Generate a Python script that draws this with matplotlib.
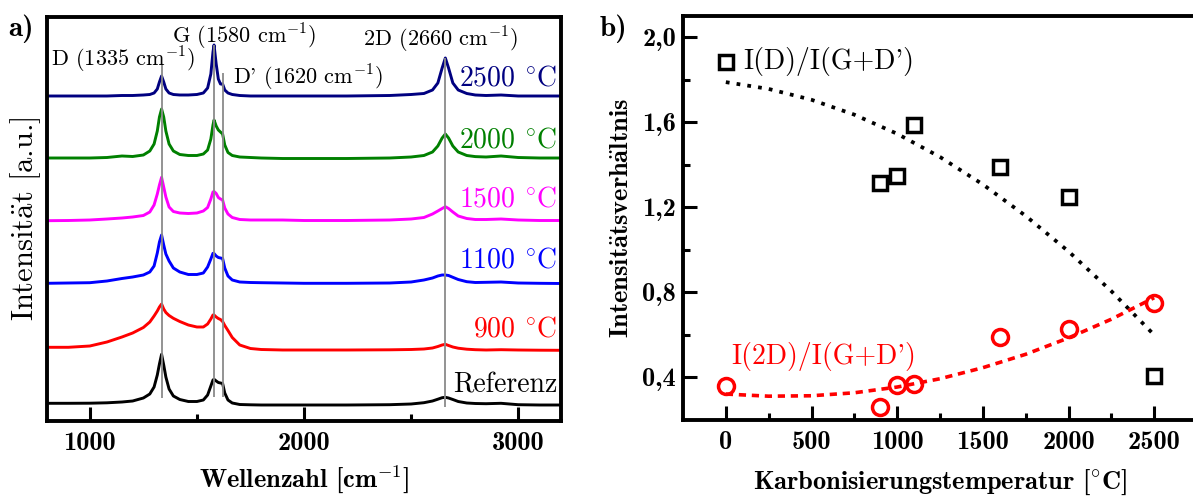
import matplotlib
matplotlib.use('Agg')
import matplotlib.pyplot as plt

plt.rcParams['mathtext.fontset'] = 'cm'
plt.rcParams['axes.formatter.use_mathtext'] = True

# ---------------- data: panel a (Raman spectra, offset, arbitrary units) ----------------
wavenumber = [800, 900, 1000, 1080, 1150, 1200, 1250, 1280, 1300, 1315, 1325, 1335, 1345, 1355,
              1370, 1390, 1420, 1460, 1500, 1530, 1550, 1565, 1575, 1580, 1590, 1600, 1610, 1620,
              1630, 1645, 1665, 1700, 1750, 1800, 1900, 2000, 2200, 2400, 2500, 2560, 2600, 2625,
              2645, 2660, 2675, 2695, 2720, 2760, 2800, 2850, 2920, 3000, 3100, 3200]

spec_2500 = [325, 325, 325, 325, 325.5, 325.5, 326, 326.5, 328, 332, 339, 345, 339, 332,
             328, 326.5, 326, 326, 326.5, 328, 333, 347, 369, 376, 357, 342, 337, 337,
             331, 328, 326.5, 325.5, 325, 325, 325, 325, 325, 325.5, 326.5, 327.5, 331, 338,
             353, 363, 353, 338, 331, 327.5, 326, 325.5, 326, 325, 325, 325]

spec_2000 = [263, 263, 263, 263.5, 265, 264.5, 266, 270, 277, 290, 304, 312, 304, 290,
             277, 270, 266.5, 265.5, 265.5, 267, 271, 282, 296, 301, 295, 291, 289, 287,
             276, 268.5, 265.5, 264, 263.5, 263, 262.5, 262.5, 262.5, 263, 264, 265.5, 269, 275,
             283, 287, 283, 275, 269, 265.5, 264.4, 264, 265, 263.5, 263, 263]

spec_1500 = [200.3, 200.5, 201, 202, 203, 204, 205.5, 209, 216, 227, 236, 243.7, 234, 224,
             214, 209.5, 208, 207.5, 208, 210, 213.5, 222, 229, 229.5, 227.5, 223.5, 222, 221,
             213, 207, 203.5, 201.5, 201, 201, 201, 200.5, 200.5, 201, 202, 203.5, 207, 210,
             212.5, 214.3, 212.5, 209, 205, 202.5, 201.5, 201.5, 202, 201, 200.5, 200.5]

spec_1100 = [137.7, 138, 138.3, 140, 142.5, 144, 146, 149, 155, 168, 179, 186, 176, 167,
             160, 153, 149, 146.5, 146.5, 148, 154, 162, 167.7, 167.5, 165, 163.5, 163, 162.5,
             153, 145, 141, 139, 138.5, 138.3, 138, 137.7, 137.7, 138, 139, 141, 143, 145,
             146, 146, 145.5, 143.7, 141.5, 139.3, 138.5, 138.7, 139, 138, 137.7, 137.5]

spec_900 = [73.7, 73.7, 75, 79, 84, 88, 93.5, 99, 105, 110, 114, 117, 112, 108.5,
            105.5, 102.7, 99.5, 96, 94, 94, 97, 102, 106, 106, 104, 102.5, 101.5, 99.5,
            95.5, 90.5, 83.5, 76, 72.5, 71.5, 71, 71, 71, 71.2, 71.5, 72, 73, 74.5,
            76, 76.7, 75.5, 74, 72.8, 71.8, 71.3, 71, 71.3, 71, 70.8, 70.7]

spec_ref = [17.7, 17.7, 17.8, 18.2, 19, 20, 23, 27, 34, 46, 57, 66.7, 56, 44,
            32, 25, 21.5, 19.5, 19.5, 21, 26, 35, 41, 41.7, 40, 38.5, 38, 37.5,
            28, 21, 18, 16.5, 16.2, 16, 16, 16, 16, 16.3, 17, 18.3, 20, 21.8,
            23.3, 23.7, 23, 21.5, 19.5, 18, 17.5, 17.3, 17.7, 16.3, 16, 16]

spectra = [spec_2500, spec_2000, spec_1500, spec_1100, spec_900, spec_ref]
spec_labels = ['2500 $^{\\circ}\\mathrm{C}$', '2000 $^{\\circ}\\mathrm{C}$', '1500 $^{\\circ}\\mathrm{C}$',
               '1100 $^{\\circ}\\mathrm{C}$', '900 $^{\\circ}\\mathrm{C}$', 'Referenz']
spec_colors = ['#000080', '#008000', '#ff00ff', '#0000ff', '#ff0000', '#000000']
spec_label_y = [342.7, 281, 221.7, 161, 91.7, 36]

peak_pos = [1335, 1580, 1620, 2660]
peak_line_bottom = [23, 24, 24, 14]
peak_line_top = [356, 376, 348, 363]
peak_names = ['D (1335 cm$^{-1}$)', 'G (1580 cm$^{-1}$)', "D' (1620 cm$^{-1}$)", '2D (2660 cm$^{-1}$)']
peak_name_x = [817, 1385, 1667, 2274]
peak_name_y = [361, 384, 342.7, 381]

left_xticks = [1000, 2000, 3000]
left_xticklabels = ['1000', '2000', '3000']
left_xminor = [1500, 2500]

# ---------------- data: panel b (intensity ratios) ----------------
temperature = [0, 900, 1000, 1100, 1600, 2000, 2500]
ratio_D = [1.886, 1.316, 1.349, 1.589, 1.39, 1.249, 0.408]
ratio_2D = [0.36, 0.263, 0.363, 0.369, 0.588, 0.63, 0.752]

fit_T = [0, 250, 500, 750, 1000, 1250, 1500, 1750, 2000, 2250, 2500]
fit_D = [1.789, 1.757, 1.706, 1.636, 1.546, 1.437, 1.308, 1.160, 0.993, 0.806, 0.600]
fit_2D = [0.322, 0.312, 0.314, 0.328, 0.355, 0.394, 0.446, 0.509, 0.586, 0.674, 0.775]

right_xticks = [0, 500, 1000, 1500, 2000, 2500]
right_xticklabels = ['0', '500', '1000', '1500', '2000', '2500']
right_xminor = [250, 750, 1250, 1750, 2250]
right_yticks = [0.4, 0.8, 1.2, 1.6, 2.0]
right_yticklabels = ['0,4', '0,8', '1,2', '1,6', '2,0']
right_yminor = [0.6, 1.0, 1.4, 1.8]

# ---------------- figure ----------------
W, H = 1193, 497
fig = plt.figure(figsize=(W / 100, H / 100), dpi=100)

REG = 'cmr10'
BOLD = 'cmb10'
SPW = 2.8

# ----- panel a -----
axL = fig.add_axes([47 / W, (H - 421) / H, 514 / W, 404 / H])
for s, c in zip(spectra, spec_colors):
    axL.plot(wavenumber, s, color=c, lw=2.1, zorder=2)
axL.vlines(peak_pos, peak_line_bottom, peak_line_top, colors='#8a8a8a', lw=1.3, zorder=3)
for txt, c, yv in zip(spec_labels, spec_colors, spec_label_y):
    axL.text(3182, yv, txt, color=c, fontsize=20, family=REG, ha='right', va='center', zorder=4)
for txt, xv, yv in zip(peak_names, peak_name_x, peak_name_y):
    axL.text(xv, yv, txt, color='black', fontsize=16, family=REG, ha='left', va='center', zorder=4)

axL.set_xlim(800, 3200)
axL.set_ylim(0, 404)
axL.set_yticks([])
axL.set_xticks(left_xticks)
axL.set_xticklabels(left_xticklabels, family=BOLD, fontsize=19)
axL.set_xticks(left_xminor, minor=True)
axL.tick_params(axis='x', which='major', direction='in', length=10, width=2.2, pad=8, top=False)
axL.tick_params(axis='x', which='minor', direction='in', length=5, width=2.2, top=False)
for sp in axL.spines.values():
    sp.set_linewidth(SPW)
axL.set_xlabel('Wellenzahl [cm$^{-1}$]', family=BOLD, fontsize=19, labelpad=6)
axL.set_ylabel('Intensit$\\ddot{\\mathrm{a}}$t [a.u.]', family=REG, fontsize=22, labelpad=3)

# ----- panel b -----
axR = fig.add_axes([683 / W, (H - 420) / H, 514 / W, 404 / H])
axR.plot(fit_T, fit_D, color='black', lw=2.7, linestyle=(0, (1.0, 1.9)), zorder=2)
axR.plot(fit_T, fit_2D, color='#ff0000', lw=2.6, linestyle=(0, (2.0, 1.6)), zorder=2)
axR.plot(temperature, ratio_D, linestyle='none', marker='s', ms=10, mew=2.5,
         mec='black', mfc='none', zorder=3)
axR.plot(temperature, ratio_2D, linestyle='none', marker='o', ms=11.5, mew=2.5,
         mec='#ff0000', mfc='none', zorder=3)
axR.text(99, 1.886, "I(D)/I(G+D')", fontsize=20, family=REG, ha='left', va='center')
axR.text(33, 0.498, "I(2D)/I(G+D')", fontsize=20, family=REG, color='#ff0000', ha='left', va='center')

axR.set_xlim(-250, 2750)
axR.set_ylim(0.2, 2.1)
axR.set_xticks(right_xticks)
axR.set_xticklabels(right_xticklabels, family=BOLD, fontsize=19)
axR.set_xticks(right_xminor, minor=True)
axR.set_yticks(right_yticks)
axR.set_yticklabels(right_yticklabels, family=BOLD, fontsize=19)
axR.set_yticks(right_yminor, minor=True)
axR.tick_params(axis='both', which='major', direction='in', length=10, width=2.2, pad=8)
axR.tick_params(axis='both', which='minor', direction='in', length=5, width=2.2)
axR.tick_params(axis='y', which='both', pad=5)
for sp in axR.spines.values():
    sp.set_linewidth(SPW)
axR.spines['right'].set_visible(False)
axR.set_xlabel('Karbonisierungstemperatur [$^{\\circ}\\mathbf{C}$]', family=BOLD, fontsize=19, labelpad=10)
axR.set_ylabel('Intensit$\\ddot{\\mathbf{a}}$tsverh$\\ddot{\\mathbf{a}}$ltnis', family=BOLD, fontsize=19, labelpad=6)

fig.text(8 / W, 1 - 29 / H, 'a)', family=BOLD, fontsize=21, ha='left', va='center')
fig.text(600 / W, 1 - 29 / H, 'b)', family=BOLD, fontsize=21, ha='left', va='center')

fig.savefig('out.png', dpi=100)
